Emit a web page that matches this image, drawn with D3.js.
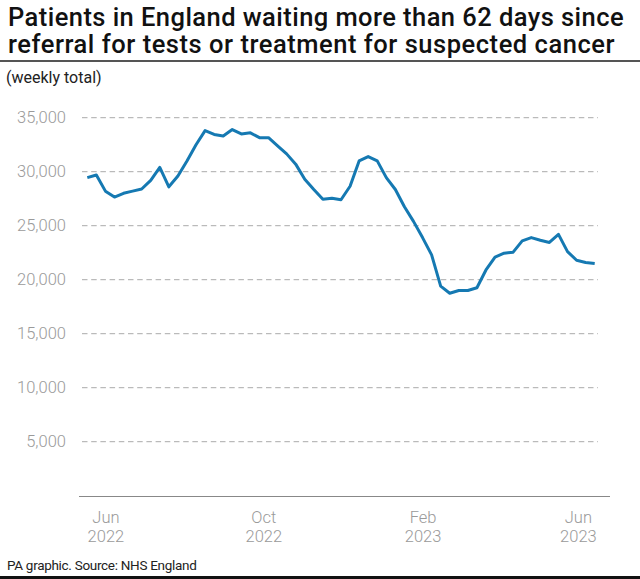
<!DOCTYPE html>
<html>
<head>
<meta charset="utf-8">
<script src="https://cdn.jsdelivr.net/npm/d3@7"></script>
<style>
html,body{margin:0;padding:0;background:#fff;}
svg{display:block;}
</style>
</head>
<body>
<svg id="chart" width="640" height="579"></svg>
<script>
// ---- data ----
const startDate = "2022-05-18";
const weeklyTotals = [
  29450, 29700, 28200, 27650, 28000, 28200, 28400, 29200, 30400, 28600,
  29600, 31000, 32500, 33800, 33450, 33300, 33900, 33500, 33600, 33150,
  33150, 32400, 31650, 30700, 29300, 28350, 27450, 27550, 27400, 28650,
  31000, 31400, 31000, 29450, 28350, 26750, 25400, 23900, 22300, 19400,
  18750, 19000, 19000, 19250, 20900, 22100, 22450, 22550, 23600, 23900,
  23650, 23450, 24200, 22600, 21800, 21600, 21500
];
const yTicks = [5000, 10000, 15000, 20000, 25000, 30000, 35000];
const xTickDates = ["2022-06-01", "2022-10-01", "2023-02-01", "2023-06-01"];
const titleLines = [
  "Patients in England waiting more than 62 days since",
  "referral for tests or treatment for suspected cancer"
];
const subtitle = "(weekly total)";
const source = "PA graphic. Source: NHS England";

// ---- build ----
const parse = d3.utcParse("%Y-%m-%d");
const d0 = parse(startDate);
const data = weeklyTotals.map((v, i) => ({date: d3.utcDay.offset(d0, 7 * i), value: v}));

const svg = d3.select("#chart");
const W = 640, H = 579;

const x = d3.scaleUtc()
  .domain(d3.extent(data, d => d.date))
  .range([87.3, 594.7]);
const y = d3.scaleLinear().domain([0, 35000]).range([495.7, 117.7]);

// Title
const title = svg.append("g");
const tfont = "Roboto, 'Liberation Sans', sans-serif";
titleLines.forEach((t, i) => {
  const el = title.append("text")
    .attr("x", 8).attr("y", 26 + i * 27.3)
    .attr("font-family", tfont)
    .attr("font-weight", 500)
    .attr("font-size", 25.5)
    .attr("fill", "#111")
    .text(t);
  const target = i === 0 ? 616 : 607;
  const len = el.node().getComputedTextLength();
  const n = t.length;
  el.attr("letter-spacing", ((target - len) / n).toFixed(3) + "px");
});

svg.append("line")
  .attr("x1", 0).attr("x2", W).attr("y1", 61).attr("y2", 61)
  .attr("stroke", "#555").attr("stroke-width", 2);

svg.append("text")
  .attr("x", 6).attr("y", 83)
  .attr("font-family", tfont).attr("font-size", 16).attr("fill", "#222")
  .text(subtitle);

// Grid + y labels
const yAxis = d3.axisLeft(y).tickValues(yTicks).tickSize(0).tickPadding(0)
  .tickFormat(d3.format(","));
const gy = svg.append("g").attr("transform", "translate(66,0)").call(yAxis);
gy.select(".domain").remove();
gy.selectAll("text")
  .attr("font-family", tfont).attr("font-weight", 300)
  .attr("font-size", 16.5).attr("fill", "#9a9a9a");

svg.append("g").selectAll("line").data(yTicks).join("line")
  .attr("x1", 82).attr("x2", 598)
  .attr("y1", d => y(d)).attr("y2", d => y(d))
  .attr("stroke", "#aaa").attr("stroke-width", 1)
  .attr("stroke-dasharray", "5.5,3.7");

// X axis
svg.append("line")
  .attr("x1", 79).attr("x2", 610).attr("y1", 496.5).attr("y2", 496.5)
  .attr("stroke", "#888").attr("stroke-width", 1);

const xAxis = d3.axisBottom(x).tickValues(xTickDates.map(parse)).tickSize(0).tickFormat("");
const gx = svg.append("g").attr("transform", "translate(0,496.5)").call(xAxis);
gx.select(".domain").remove();
const fmtM = d3.utcFormat("%b"), fmtY = d3.utcFormat("%Y");
gx.selectAll(".tick").each(function(d) {
  const g = d3.select(this);
  g.selectAll("text").remove();
  const t = g.append("text")
    .attr("text-anchor", "middle")
    .attr("font-family", tfont).attr("font-weight", 300)
    .attr("font-size", 16.5).attr("fill", "#9a9a9a");
  t.append("tspan").attr("x", 0).attr("y", 26.5).text(fmtM(d));
  t.append("tspan").attr("x", 0).attr("y", 45).text(fmtY(d));
});

// Line
svg.append("path")
  .datum(data)
  .attr("fill", "none")
  .attr("stroke", "#1579b2")
  .attr("stroke-width", 3)
  .attr("stroke-linejoin", "round")
  .attr("d", d3.line().x(d => x(d.date)).y(d => y(d.value)));

// Source
svg.append("text")
  .attr("x", 7).attr("y", 570)
  .attr("font-family", tfont).attr("font-size", 13.5).attr("fill", "#222")
  .attr("letter-spacing", "-0.3px")
  .text(source);

svg.append("rect").attr("x", 0).attr("y", 576).attr("width", W).attr("height", 3).attr("fill", "#111");
</script>
</body>
</html>
